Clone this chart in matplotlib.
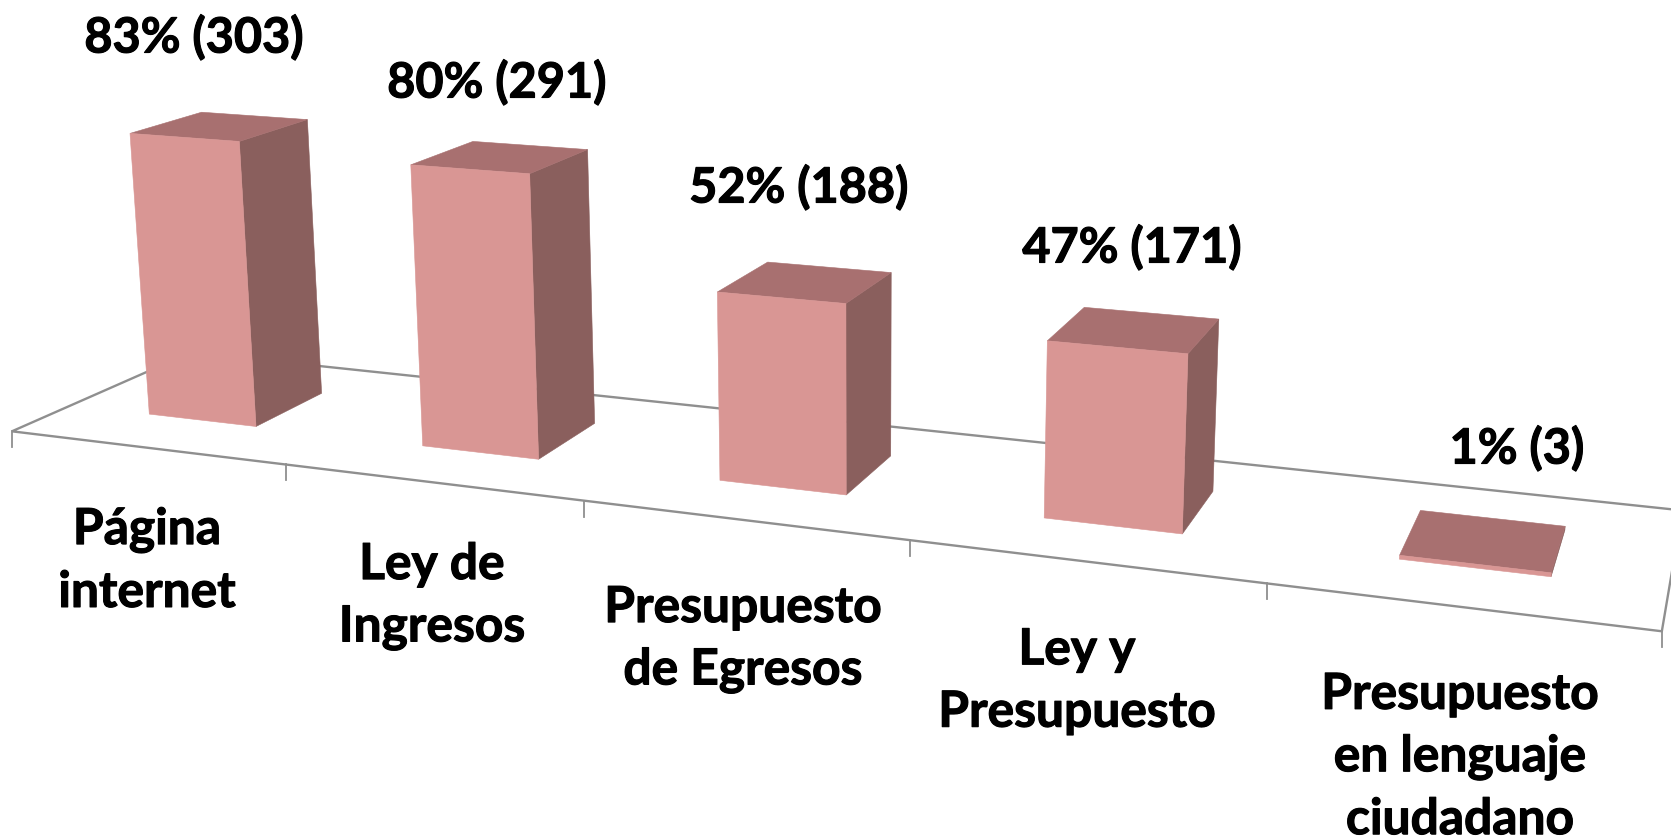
import numpy as np
import matplotlib
matplotlib.use("Agg")
import matplotlib.pyplot as plt
import matplotlib.patheffects as pe
from matplotlib.patches import Polygon

# datos
categorias = ["Página\ninternet", "Ley de\nIngresos", "Presupuesto\nde Egresos", "Ley y\nPresupuesto", "Presupuesto\nen lenguaje\nciudadano"]
porcentajes = [83, 80, 52, 47, 1]
conteos = [303, 291, 188, 171, 3]

# posiciones de los textos, en pixeles
x_cat = [147, 432, 743, 1077, 1460]
y_cat = [561, 596, 639, 681, 757]
x_val = [194, 497, 799, 1132, 1517]
y_val = [37, 82, 187, 247, 448]

# camara del grafico 3D: (columna, fondo, altura) -> pixel
P = np.array([[262.0463, 199.9689, -27.96943, 11.92507],
              [14.18548, -40.42196, -349.8286, 431.3153],
              [-0.04088025, 0.1091669, -0.03245357, 1.0]])
ancho = 0.40
v1 = 0.31
v2 = 0.71

c_frente = "#d99694"
c_lado = "#8a5f5d"
c_tapa = "#a87070"
c_linea = "#8f8f8f"

def proj(u, v, h):
	q = P @ np.array([u, v, h, 1.0])
	return q[:2] / q[2]

fig = plt.figure(figsize=(16.71, 8.40), dpi=100)
ax = fig.add_axes([0, 0, 1, 1])
ax.set_xlim(0, 1671)
ax.set_ylim(840, 0)
ax.axis("off")

# piso y marcas
n = len(porcentajes)
ax.add_patch(Polygon([proj(0, 0, 0), proj(n, 0, 0), proj(n, 1, 0), proj(0, 1, 0)], fc="white", ec=c_linea, lw=1.7))
for i in range(n + 1):
	x, y = proj(i, 0, 0)
	ax.plot([x, x], [y, y + 16], color=c_linea, lw=1.3)

# barras
for i in range(n):
	h = porcentajes[i] / 100
	u1 = i + 0.5 - ancho / 2
	u2 = i + 0.5 + ancho / 2
	ax.add_patch(Polygon([proj(u2, v1, 0), proj(u2, v2, 0), proj(u2, v2, h), proj(u2, v1, h)], fc=c_lado, ec=c_lado, lw=0.4))
	ax.add_patch(Polygon([proj(u1, v1, h), proj(u2, v1, h), proj(u2, v2, h), proj(u1, v2, h)], fc=c_tapa, ec=c_tapa, lw=0.4))
	ax.add_patch(Polygon([proj(u1, v1, 0), proj(u2, v1, 0), proj(u2, v1, h), proj(u1, v1, h)], fc=c_frente, ec=c_frente, lw=0.4))

# textos
grueso = [pe.withStroke(linewidth=0.8, foreground="black")]
for i in range(n):
	ax.text(x_val[i], y_val[i], "%d%% (%d)" % (porcentajes[i], conteos[i]), fontsize=35, fontweight="bold",
		family="Lato", ha="center", va="center", color="black", path_effects=grueso)
	ax.text(x_cat[i], y_cat[i], categorias[i], fontsize=35.8, fontweight="bold", family="Lato",
		ha="center", va="center", linespacing=1.47, color="black", path_effects=grueso)

fig.savefig("out.png", dpi=100)
